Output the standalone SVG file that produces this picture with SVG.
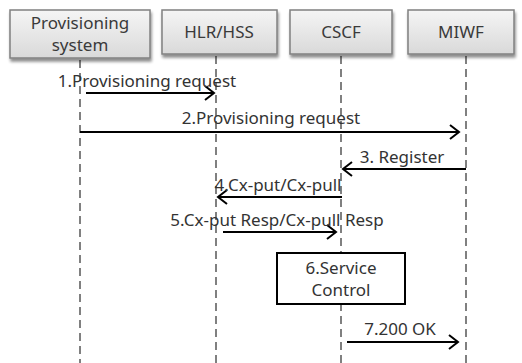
<svg xmlns="http://www.w3.org/2000/svg" width="522" height="363" viewBox="0 0 522 363">
  <style>
    .actor rect { fill: url(#boxFill); stroke: #808080; stroke-width: 1.5; filter: url(#shadow); }
    .actor text { font-family: "Noto Sans", "Liberation Sans", sans-serif; font-size: 17px; fill: #3a3a3a; text-anchor: middle; }
    .life { stroke: #808080; stroke-width: 2; stroke-dasharray: 8 5; fill: none; }
    .msg { stroke: #000; stroke-width: 2; fill: none; marker-end: url(#arrow); }
    .label { font-family: "Noto Sans", "Liberation Sans", sans-serif; font-size: 17px; fill: #333; text-anchor: middle; }
    .step rect { fill: #fff; stroke: #000; stroke-width: 2; }
  </style>
  <defs>
    <linearGradient id="boxFill" x1="0" y1="0" x2="0" y2="1">
      <stop offset="0" stop-color="#f5f5f5"/>
      <stop offset="1" stop-color="#d9d9d9"/>
    </linearGradient>
    <filter id="shadow" x="-10%" y="-10%" width="125%" height="140%">
      <feGaussianBlur in="SourceAlpha" stdDeviation="1.5"/>
      <feOffset dx="1" dy="2.5" result="b"/>
      <feComponentTransfer><feFuncA type="linear" slope="0.45"/></feComponentTransfer>
      <feMerge><feMergeNode/><feMergeNode in="SourceGraphic"/></feMerge>
    </filter>
    <marker id="arrow" markerWidth="14" markerHeight="16" refX="11" refY="8" orient="auto" markerUnits="userSpaceOnUse">
      <path d="M2,1 L11,8 L2,15" fill="none" stroke="#000" stroke-width="2"/>
    </marker>
  </defs>

  <!-- lifelines -->
  <g id="lifelines">
    <line class="life" x1="80" y1="60" x2="80" y2="363"/>
    <line class="life" x1="216" y1="56" x2="216" y2="363"/>
    <line class="life" x1="341" y1="56" x2="341" y2="363"/>
    <line class="life" x1="466" y1="56" x2="466" y2="363"/>
  </g>

  <!-- participants -->
  <g id="provisioning" class="actor">
    <rect x="10" y="10" width="140" height="48"/>
    <text x="80" y="29">Provisioning</text>
    <text x="80" y="51">system</text>
  </g>
  <g id="hlr-hss" class="actor">
    <rect x="162" y="10" width="115" height="44"/>
    <text x="219" y="38">HLR/HSS</text>
  </g>
  <g id="cscf" class="actor">
    <rect x="290" y="10" width="102" height="44"/>
    <text x="341" y="38">CSCF</text>
  </g>
  <g id="miwf" class="actor">
    <rect x="408" y="10" width="106" height="44"/>
    <text x="461" y="38">MIWF</text>
  </g>

  <!-- messages -->
  <g id="connectors">
    <line class="msg" x1="86" y1="93" x2="214" y2="93"/>
    <line class="msg" x1="80" y1="132" x2="459" y2="132"/>
    <line class="msg" x1="466" y1="169" x2="343" y2="169"/>
    <line class="msg" x1="342" y1="197" x2="218" y2="197"/>
    <line class="msg" x1="223" y1="232" x2="336" y2="232"/>
    <line class="msg" x1="347" y1="342" x2="458" y2="342"/>
  </g>

  <g id="labels">
    <text class="label" x="147" y="87">1.Provisioning request</text>
    <text class="label" x="271" y="124">2.Provisioning request</text>
    <text class="label" x="402" y="163">3. Register</text>
    <text class="label" x="278" y="191">4.Cx-put/Cx-pull</text>
    <text class="label" x="277" y="226">5.Cx-put Resp/Cx-pull Resp</text>
    <text class="label" x="400" y="335">7.200 OK</text>
  </g>

  <!-- local step on CSCF -->
  <g id="service-control" class="step">
    <rect x="277" y="253" width="128" height="51"/>
    <text class="label" x="341" y="274">6.Service</text>
    <text class="label" x="341" y="296">Control</text>
  </g>
</svg>
